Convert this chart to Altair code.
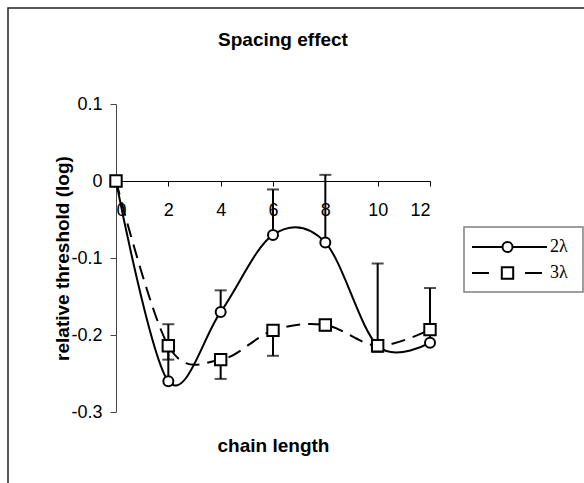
import altair as alt
import pandas as pd

chain_length = [0, 2, 4, 6, 8, 10, 12]
series_names = ["2λ", "3λ"]
vals_2 = [0.0, -0.26, -0.17, -0.07, -0.08, -0.214, -0.21]
err_end_2 = [0.0, -0.186, -0.142, -0.011, 0.008, -0.107, -0.139]   # upward bars
vals_3 = [0.0, -0.214, -0.232, -0.194, -0.187, -0.214, -0.193]
err_end_3 = [0.0, -0.232, -0.257, -0.227, -0.194, -0.222, -0.193]  # downward bars
x_ticks = [0, 2, 4, 6, 8, 10, 12]
y_ticks = [-0.3, -0.2, -0.1, 0.0, 0.1]
chart_title = "Spacing effect"

rows = []
for s, vals, errs in [(series_names[0], vals_2, err_end_2), (series_names[1], vals_3, err_end_3)]:
    for x, v, e in zip(chain_length, vals, errs):
        rows.append({"series": s, "x": x, "y": v, "e": e})
df = pd.DataFrame(rows)

W, H = 314, 308
FONT = "Liberation Sans"

xs = alt.Scale(domain=[0, 12], nice=False, zero=False)
ys = alt.Scale(domain=[-0.3, 0.1], nice=False, zero=False)

x_axis = alt.Axis(values=x_ticks, offset=-231, tickSize=5, labelPadding=15, grid=False,
                  domainColor="black", tickColor="black", labelFontSize=18, labelFont=FONT,
                  labelColor="black", title="chain length", titleFont=FONT, titleFontSize=19,
                  titleFontWeight="bold", titleColor="black", titleY=264, titleBaseline="middle",
                  domainWidth=1, tickWidth=1)
y_axis = alt.Axis(values=y_ticks, tickSize=6, labelPadding=8, grid=False,
                  domainColor="#444", tickColor="#444", labelFontSize=18, labelFont=FONT,
                  labelColor="black",
                  labelExpr="datum.value == 0 ? '0' : (datum.value < 0 ? '-' : '') + format(abs(datum.value), '.1f')",
                  title="relative threshold (log)", titleFont=FONT, titleFontSize=19,
                  titleFontWeight="bold", titleColor="black", titleX=-54, titleY=H / 2,
                  titleAngle=270, titleAlign="center", titleBaseline="middle")

base = alt.Chart(df)

def sel(s):
    return base.transform_filter(alt.datum.series == s)

line2 = sel("2λ").mark_line(interpolate="cardinal", tension=0, color="black", strokeWidth=2).encode(
    x=alt.X("x:Q", scale=xs, axis=x_axis), y=alt.Y("y:Q", scale=ys, axis=y_axis))
line3 = sel("3λ").mark_line(interpolate="cardinal", tension=0, color="black", strokeWidth=2,
                             strokeDash=[14, 8]).encode(
    x=alt.X("x:Q", scale=xs), y=alt.Y("y:Q", scale=ys))

err_rule = base.mark_rule(color="black", strokeWidth=2).encode(
    x=alt.X("x:Q", scale=xs), y=alt.Y("y:Q", scale=ys), y2="e:Q")
err_cap = base.mark_tick(color="black", orient="horizontal", size=12, thickness=2).encode(
    x=alt.X("x:Q", scale=xs), y=alt.Y("e:Q", scale=ys))

pts2 = sel("2λ").mark_point(shape="circle", size=100, filled=True, fill="white",
                             stroke="black", strokeWidth=2, opacity=1).encode(
    x=alt.X("x:Q", scale=xs), y=alt.Y("y:Q", scale=ys))
pts3 = sel("3λ").mark_point(shape="square", size=130, filled=True, fill="white",
                             stroke="black", strokeWidth=2, opacity=1).encode(
    x=alt.X("x:Q", scale=xs), y=alt.Y("y:Q", scale=ys))

one = pd.DataFrame({"a": [0]})

# chart-area border (only top and left edges fall inside the picture)
border = alt.Chart(one).mark_rect(fill=None, stroke="#222", strokeWidth=1.5).encode(
    x=alt.value(-108), x2=alt.value(490), y=alt.value(-96), y2=alt.value(400))

title_mark = alt.Chart(one).mark_text(text=chart_title, font=FONT, fontSize=19, fontWeight="bold",
                                      align="center", baseline="middle", color="black").encode(
    x=alt.value(167), y=alt.value(-64))

# legend
leg = alt.Chart(one)
legend_box = leg.mark_rect(fill="white", stroke="#808080", strokeWidth=1.5).encode(
    x=alt.value(348), x2=alt.value(467), y=alt.value(123), y2=alt.value(188))
r1 = 143
r2 = 169
leg_line1 = leg.mark_rule(color="black", strokeWidth=2).encode(
    x=alt.value(356), x2=alt.value(431), y=alt.value(r1))
leg_pt1 = leg.mark_point(shape="circle", size=100, filled=True, fill="white", stroke="black",
                         strokeWidth=2, opacity=1).encode(x=alt.value(391.5), y=alt.value(r1))
leg_txt1 = leg.mark_text(text=series_names[0], font="Liberation Serif", fontSize=18, align="left",
                         baseline="middle", color="black").encode(x=alt.value(434), y=alt.value(r1))
leg_dash_a = leg.mark_rule(color="black", strokeWidth=2).encode(
    x=alt.value(356), x2=alt.value(373), y=alt.value(r2))
leg_dash_b = leg.mark_rule(color="black", strokeWidth=2).encode(
    x=alt.value(409), x2=alt.value(426), y=alt.value(r2))
leg_pt2 = leg.mark_point(shape="square", size=130, filled=True, fill="white", stroke="black",
                         strokeWidth=2, opacity=1).encode(x=alt.value(391.5), y=alt.value(r2))
leg_txt2 = leg.mark_text(text=series_names[1], font="Liberation Serif", fontSize=18, align="left",
                         baseline="middle", color="black").encode(x=alt.value(434), y=alt.value(r2))

chart = alt.layer(
    border, title_mark, line2, line3, err_rule, err_cap, pts2, pts3,
    legend_box, leg_line1, leg_pt1, leg_txt1, leg_dash_a, leg_dash_b, leg_pt2, leg_txt2,
).properties(
    width=W, height=H,
    background="white",
    autosize=alt.AutoSizeParams(type="none"),
    padding={"left": 116, "top": 104, "right": 154, "bottom": 71},
).configure_view(stroke="transparent", strokeWidth=0)

chart.save("out.html", embed_options={"renderer": "svg", "actions": False})
